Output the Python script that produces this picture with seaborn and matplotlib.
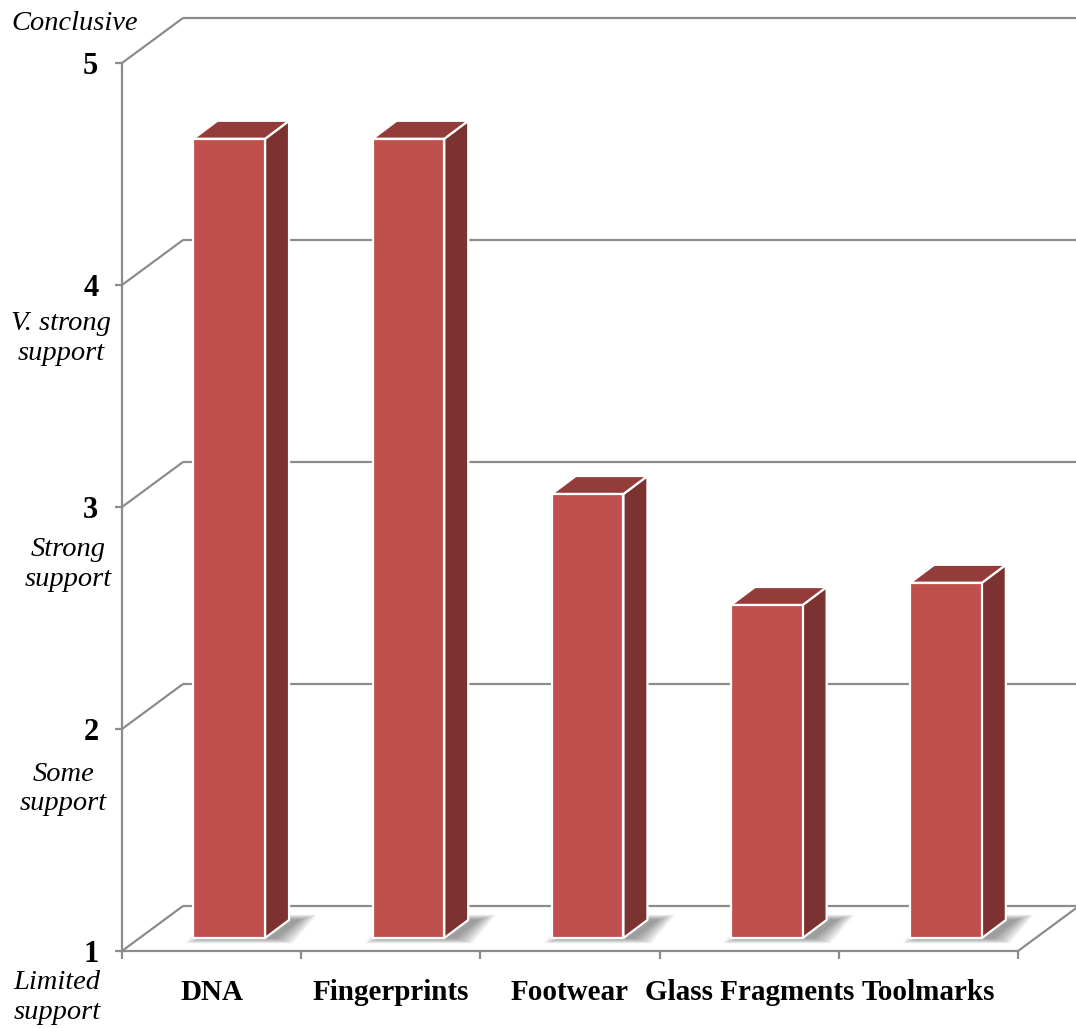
import numpy as np
import pandas as pd
import seaborn as sns
import matplotlib.pyplot as plt
from matplotlib.patches import Polygon

# Data
categories = ["DNA", "Fingerprints", "Footwear", "Glass Fragments", "Toolmarks"]
scores = [4.6, 4.6, 3.0, 2.5, 2.6]
scale_ticks = [1, 2, 3, 4, 5]
scale_words = ["Limited\nsupport", "Some\nsupport", "Strong\nsupport",
               "V. strong\nsupport", "Conclusive"]
scale_word_y = [0.79, 1.73, 2.74, 3.76, 5.18]
scale_word_x = [0.053, 0.059, 0.063, 0.057, 0.069]

# Colours
FRONT = "#C0504D"
SIDE = "#7B3230"
TOP = "#943C3A"
GRID = "#8C8C8C"

sns.set_theme(style="white")
plt.rcParams["font.family"] = ["Liberation Serif", "DejaVu Serif"]

W, H = 1076, 1028
fig = plt.figure(figsize=(W / 100, H / 100), dpi=100)
ax = fig.add_axes([122 / W, 77 / H, 896 / W, 888 / H])

df = pd.DataFrame({"category": categories, "score": scores})
sns.barplot(data=df, x="category", y="score", color=FRONT, saturation=1,
            width=0.4, edgecolor="white", linewidth=1.6, ax=ax, zorder=4)

ax.set_xlim(-0.5, len(categories) - 0.5)
ax.set_ylim(1, 5)

# oblique depth offsets in data units
px_x = 896 / len(categories)
px_y = 888 / 4
wall_dx, wall_dy = 61 / px_x, 45 / px_y      # depth of the floor / walls
front_dx, front_dy = 17.6 / px_x, 13 / px_y  # gap between front plane and bar
bar_dx, bar_dy = 24 / px_x, 18 / px_y        # depth of each bar

x_left, x_right = -0.5, len(categories) - 0.5
line_kw = dict(color=GRID, lw=1.6, clip_on=False, zorder=1,
               solid_capstyle="butt")

# back-wall gridlines with their diagonal connectors on the side wall
for k in scale_ticks[1:]:
    ax.plot([x_left, x_left + wall_dx], [k, k + wall_dy], **line_kw)
    ax.plot([x_left + wall_dx, x_right + wall_dx + 0.2],
            [k + wall_dy, k + wall_dy], **line_kw)

# floor outline
ax.plot([x_left, x_left + wall_dx], [1, 1 + wall_dy], **line_kw)
ax.plot([x_left + wall_dx, x_right + wall_dx], [1 + wall_dy, 1 + wall_dy], **line_kw)
ax.plot([x_right, x_right + wall_dx], [1, 1 + wall_dy], **line_kw)

# turn flat bars into boxes standing on the floor
for p, val in zip(ax.patches, scores):
    x0 = p.get_x()
    w = p.get_width()
    top = p.get_height()
    fx, fy = x0 + front_dx, 1 + front_dy
    ty = top + front_dy
    p.set_x(fx)
    p.set_y(fy)
    p.set_height(top - 1)
    p.set_clip_on(False)

    # soft shadow on the floor, built from stacked translucent footprints
    shift = 10 / px_x
    for e in np.linspace(18, 1, 14):
        ex, ey = e / px_x, 0.3 * e / px_y
        shadow = Polygon([
            (fx + shift - ex, fy - ey),
            (fx + w + shift + ex, fy - ey),
            (fx + w + bar_dx + shift + ex, fy + bar_dy + ey),
            (fx + bar_dx + shift - ex, fy + bar_dy + ey),
        ], closed=True, facecolor="#3a3a3a", edgecolor="none", alpha=0.045,
            zorder=2, clip_on=False)
        ax.add_patch(shadow)

    side = Polygon([
        (fx + w, fy), (fx + w + bar_dx, fy + bar_dy),
        (fx + w + bar_dx, ty + bar_dy), (fx + w, ty)
    ], closed=True, facecolor=SIDE, edgecolor="white", lw=1.6,
        joinstyle="round", zorder=3, clip_on=False)
    lid = Polygon([
        (fx, ty), (fx + w, ty), (fx + w + bar_dx, ty + bar_dy),
        (fx + bar_dx, ty + bar_dy)
    ], closed=True, facecolor=TOP, edgecolor="white", lw=1.6,
        joinstyle="round", zorder=3, clip_on=False)
    ax.add_patch(side)
    ax.add_patch(lid)

# spines
for s in ["top", "right"]:
    ax.spines[s].set_visible(False)
for s in ["left", "bottom"]:
    ax.spines[s].set_color(GRID)
    ax.spines[s].set_linewidth(1.6)
    ax.spines[s].set_zorder(1)

# y axis: numeric scale
ax.set_yticks(scale_ticks)
ax.set_yticklabels([str(t) for t in scale_ticks], fontsize=22,
                   fontweight="bold", color="black")
ax.tick_params(axis="y", direction="out", length=5, width=1.6,
               color=GRID, pad=12, left=True)

# x axis: category names centred, ticks on category boundaries
ax.set_xticks(range(len(categories)))
ax.set_xticklabels(categories, fontsize=21, fontweight="bold", color="black")
ax.tick_params(axis="x", which="major", length=0, pad=20)
ax.set_xticks(np.arange(-0.5, len(categories)), minor=True)
ax.tick_params(axis="x", which="minor", direction="out", length=6,
               width=1.6, color=GRID, bottom=True)
ax.set_xlabel("")
ax.set_ylabel("")

# verbal scale descriptors along the y axis
for word, yv, xf in zip(scale_words, scale_word_y, scale_word_x):
    fig.text(xf, ax.transData.transform((0, yv))[1] / H, word,
             fontsize=20.5, style="italic", ha="center", va="center",
             linespacing=1.25, color="black")

fig.savefig("out.png", dpi=100, facecolor="white")
